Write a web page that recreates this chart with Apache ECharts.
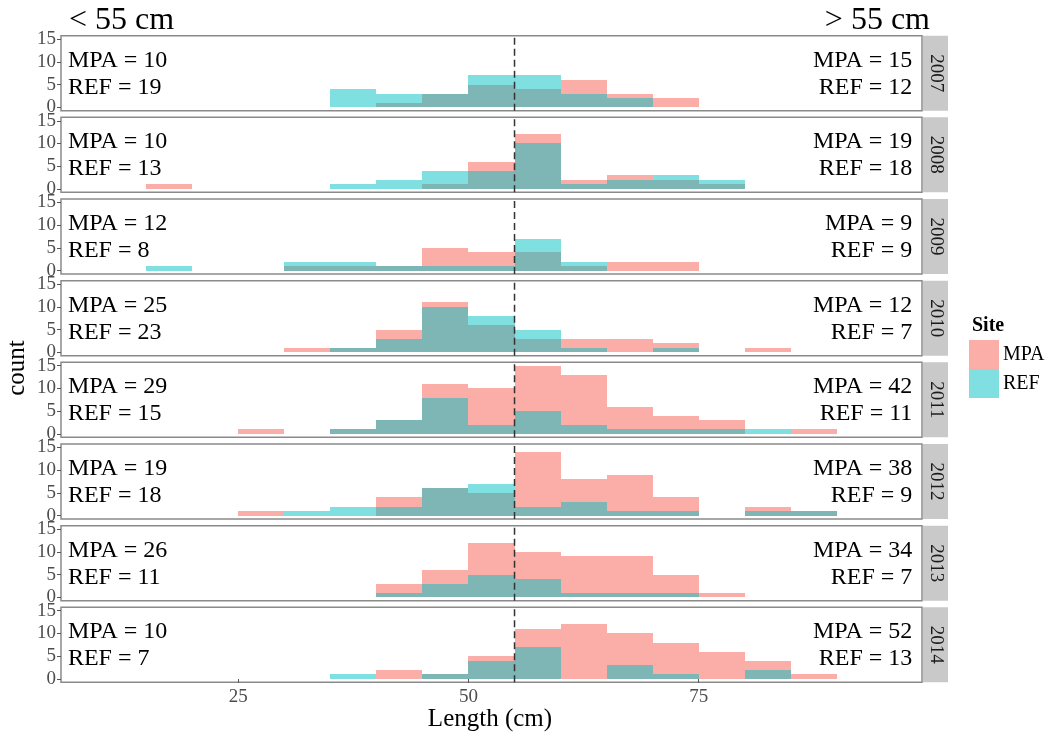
<!DOCTYPE html>
<html>
<head>
<meta charset="utf-8">
<script src="https://cdn.jsdelivr.net/npm/echarts@6/dist/echarts.min.js"></script>
<style>
html,body{margin:0;padding:0;background:#fff;}
#chart{width:1049px;height:733px;}
</style>
</head>
<body>
<div id="chart"></div>
<script>
// ---------------- data ----------------
const years = ['2007','2008','2009','2010','2011','2012','2013','2014'];
const binStarts = [15,20,25,30,35,40,45,50,55,60,65,70,75,80,85];
const binWidth = 5;
// counts per bin (bins above), MPA
const mpa2007 = [0,0,0,0,0,1,3,5,4,6,3,2,0,0,0];
const mpa2008 = [1,0,0,0,0,0,1,6,12,2,3,2,1,0,0];
const mpa2009 = [0,0,0,1,1,1,5,4,4,1,2,2,0,0,0];
const mpa2010 = [0,0,0,1,1,5,11,6,3,3,3,2,0,1,0];
const mpa2011 = [0,0,1,0,1,3,11,10,15,13,6,4,3,0,1];
const mpa2012 = [0,0,1,0,0,4,6,5,14,8,9,4,0,2,1];
const mpa2013 = [0,0,0,0,0,3,6,12,10,9,9,5,1,0,0];
const mpa2014 = [0,0,0,0,0,2,1,5,11,12,10,8,6,4,1];
// REF
const ref2007 = [0,0,0,0,4,3,3,7,7,3,2,0,0,0,0];
const ref2008 = [0,0,0,0,1,2,4,4,10,1,2,3,2,0,0];
const ref2009 = [1,0,0,2,2,1,1,1,7,2,0,0,0,0,0];
const ref2010 = [0,0,0,0,1,3,10,8,5,1,0,1,0,0,0];
const ref2011 = [0,0,0,0,1,3,8,2,5,2,1,1,1,1,0];
const ref2012 = [0,0,0,1,2,2,6,7,2,3,1,1,0,1,1];
const ref2013 = [0,0,0,0,0,1,3,5,4,1,1,1,0,0,0];
const ref2014 = [0,0,0,0,1,0,1,4,7,0,3,1,0,2,0];
const mpaCounts = [mpa2007,mpa2008,mpa2009,mpa2010,mpa2011,mpa2012,mpa2013,mpa2014];
const refCounts = [ref2007,ref2008,ref2009,ref2010,ref2011,ref2012,ref2013,ref2014];
// annotation totals
const leftMPA  = [10,10,12,25,29,19,26,10];
const leftREF  = [19,13,8,23,15,18,11,7];
const rightMPA = [15,19,9,12,42,38,34,52];
const rightREF = [12,18,9,7,11,9,7,13];
const cutoff = 55;
const yTicks = [0,5,10,15];
const xTicks = [25,50,75];

// ---------------- layout ----------------
const FONT = '"Liberation Serif", "DejaVu Serif", serif';
const LEFT = 61, PW = 861, TOP0 = 35.7, PITCH = 81.66, PH = 75;
const XMIN = 5.75, XMAX = 99.25, YMIN = -0.75, YMAX = 15.75;
const MPA_FILL = 'rgba(248,118,109,0.6)';
const REF_FILL = 'rgba(0,191,196,0.5)';

const grids = [], xAxes = [], yAxes = [], series = [], graphics = [];

function barSeries(gi, counts, fill, name) {
  const data = [];
  counts.forEach((c, k) => { if (c > 0) data.push([binStarts[k], c]); });
  return {
    type: 'custom', name: name, xAxisIndex: gi, yAxisIndex: gi, data: data,
    silent: true, z: 2,
    renderItem: function (params, api) {
      const x0 = api.value(0), c = api.value(1);
      const p1 = api.coord([x0, c]);
      const p2 = api.coord([x0 + binWidth, 0]);
      const xa = Math.round(p1[0]), xb = Math.round(p2[0]);
      const ya = Math.round(p1[1]), yb = Math.round(p2[1]);
      return { type: 'rect',
        shape: { x: xa, y: ya, width: xb - xa, height: yb - ya },
        style: { fill: fill } };
    }
  };
}

years.forEach((yr, i) => {
  const top = TOP0 + i * PITCH;
  const last = i === years.length - 1;
  grids.push({ left: LEFT, top: top, width: PW, height: PH, show: true,
    backgroundColor: '#fff', borderColor: '#8a8a8a', borderWidth: 1.5 });
  xAxes.push({ type: 'value', gridIndex: i, min: XMIN, max: XMAX,
    axisLine: { show: false }, splitLine: { show: false },
    axisTick: { show: last, length: 4, lineStyle: { color: '#555' }, customValues: xTicks },
    axisLabel: { show: last, customValues: xTicks, fontFamily: FONT, fontSize: 19,
      color: '#4d4d4d', margin: 5 } });
  yAxes.push({ type: 'value', gridIndex: i, min: YMIN, max: YMAX,
    axisLine: { show: false }, splitLine: { show: false },
    axisTick: { show: true, length: 4, lineStyle: { color: '#555' }, customValues: yTicks },
    axisLabel: { show: true, customValues: yTicks, fontFamily: FONT, fontSize: 19,
      color: '#4d4d4d', margin: 5 } });

  series.push(barSeries(i, mpaCounts[i], MPA_FILL, 'MPA'));
  series.push(barSeries(i, refCounts[i], REF_FILL, 'REF'));

  // dashed cutoff line
  series.push({ type: 'custom', xAxisIndex: i, yAxisIndex: i, data: [[cutoff]], silent: true, z: 5,
    renderItem: function (params, api) {
      const a = api.coord([api.value(0), YMIN]);
      const b = api.coord([api.value(0), YMAX]);
      return { type: 'line', shape: { x1: a[0], y1: a[1], x2: b[0], y2: b[1] },
        style: { stroke: '#333', lineWidth: 1.5, lineDash: [7, 4] } };
    } });

  // annotation labels
  const labels = [
    [6.5, 10.3, 'MPA = ' + leftMPA[i], 'left'],
    [6.5, 4.4, 'REF = ' + leftREF[i], 'left'],
    [98.2, 10.3, 'MPA = ' + rightMPA[i], 'right'],
    [98.2, 4.4, 'REF = ' + rightREF[i], 'right']
  ];
  series.push({ type: 'custom', xAxisIndex: i, yAxisIndex: i,
    data: labels.map(l => [l[0], l[1]]), silent: true, z: 6,
    renderItem: function (params, api) {
      const l = labels[params.dataIndex];
      const p = api.coord([api.value(0), api.value(1)]);
      return { type: 'text', x: p[0], y: p[1],
        style: { text: l[2], fontFamily: FONT, fontSize: 24, fill: '#000',
          align: l[3], verticalAlign: 'middle' } };
    } });

  // facet strip
  graphics.push({ type: 'rect', shape: { x: LEFT + PW + 1, y: top, width: 25, height: PH },
    style: { fill: '#c9c9c9' }, silent: true });
  graphics.push({ type: 'text', x: LEFT + PW + 1 + 12.5, y: top + PH / 2, rotation: -Math.PI / 2,
    style: { text: yr, fontFamily: FONT, fontSize: 19, fill: '#1a1a1a',
      align: 'center', verticalAlign: 'middle' }, silent: true });
});

// titles
graphics.push({ type: 'text', x: 69, y: 21, style: { text: '< 55 cm', fontFamily: FONT,
  fontSize: 32, fill: '#000', align: 'left', verticalAlign: 'middle' } });
graphics.push({ type: 'text', x: 930, y: 21, style: { text: '> 55 cm', fontFamily: FONT,
  fontSize: 32, fill: '#000', align: 'right', verticalAlign: 'middle' } });
// axis titles
graphics.push({ type: 'text', x: 17, y: 368, rotation: Math.PI / 2, style: { text: 'count',
  fontFamily: FONT, fontSize: 25, fill: '#000', align: 'center', verticalAlign: 'middle' } });
graphics.push({ type: 'text', x: 490, y: 719, style: { text: 'Length (cm)',
  fontFamily: FONT, fontSize: 25, fill: '#000', align: 'center', verticalAlign: 'middle' } });
// legend
graphics.push({ type: 'text', x: 972, y: 326, style: { text: 'Site', fontFamily: FONT,
  fontSize: 20, fontWeight: 'bold', fill: '#000', align: 'left', verticalAlign: 'middle' } });
graphics.push({ type: 'rect', shape: { x: 969, y: 340, width: 30, height: 29 },
  style: { fill: MPA_FILL } });
graphics.push({ type: 'rect', shape: { x: 969, y: 369, width: 30, height: 29 },
  style: { fill: REF_FILL } });
graphics.push({ type: 'text', x: 1003, y: 355, style: { text: 'MPA', fontFamily: FONT,
  fontSize: 20, fill: '#000', align: 'left', verticalAlign: 'middle' } });
graphics.push({ type: 'text', x: 1003, y: 384, style: { text: 'REF', fontFamily: FONT,
  fontSize: 20, fill: '#000', align: 'left', verticalAlign: 'middle' } });

const chart = echarts.init(document.getElementById('chart'), null, { renderer: 'canvas' });
chart.setOption({
  animation: false,
  backgroundColor: '#fff',
  grid: grids, xAxis: xAxes, yAxis: yAxes, series: series,
  graphic: { elements: graphics }
});
</script>
</body>
</html>
